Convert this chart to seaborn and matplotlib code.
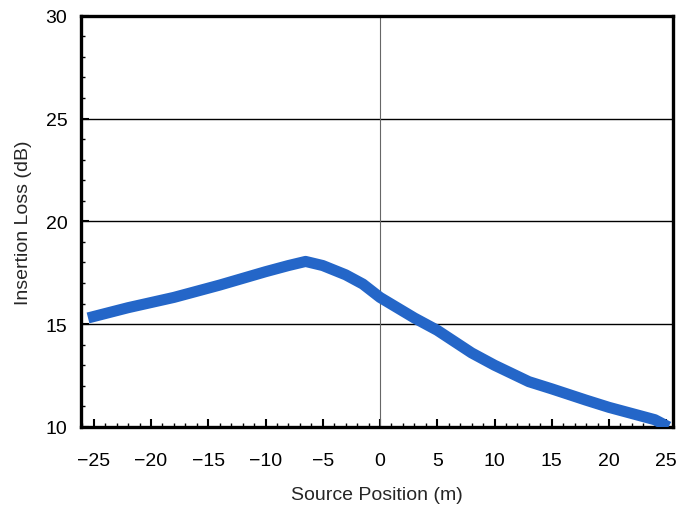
import matplotlib
matplotlib.use("Agg")
import matplotlib.pyplot as plt
import seaborn as sns
import pandas as pd
from matplotlib.ticker import MultipleLocator

positions = [-25.5, -22, -18, -14, -10, -8, -6.5, -5, -3, -1.5, 0, 1.5, 3, 5, 8, 10, 13, 15, 18, 20, 22, 24, 25.2]
loss = [15.3, 15.8, 16.3, 16.9, 17.55, 17.85, 18.05, 17.85, 17.4, 16.95, 16.3, 15.8, 15.3, 14.7, 13.6, 13.0, 12.2, 11.85, 11.3, 10.95, 10.65, 10.35, 10.0]
x_ticks = [-25, -20, -15, -10, -5, 0, 5, 10, 15, 20, 25]
y_ticks = [10, 15, 20, 25, 30]

df = pd.DataFrame({"pos": positions, "loss": loss})

sns.set_theme(style="white")
plt.rcParams['font.family'] = ['Liberation Sans', 'DejaVu Sans']

fig = plt.figure(figsize=(6.82, 5.10), dpi=100)
ax = fig.add_axes([0.119, 0.161, 0.868, 0.806])

sns.lineplot(data=df, x="pos", y="loss", ax=ax, color="#2466c8", linewidth=8,
             solid_capstyle="butt", solid_joinstyle="round", zorder=3)

ax.set_xlim(-26.1, 25.6)
ax.set_ylim(10, 30)
ax.set_xticks(x_ticks)
ax.set_yticks(y_ticks)
ax.set_xticklabels([f"\u2212{abs(t)}" if t < 0 else str(t) for t in x_ticks])
ax.xaxis.set_minor_locator(MultipleLocator(1))
ax.yaxis.set_minor_locator(MultipleLocator(1))

for yv in [15, 20, 25]:
    ax.axhline(yv, color="black", linewidth=1.0, zorder=1)
ax.axvline(0, color="#666666", linewidth=0.8, zorder=1)

for s in ax.spines.values():
    s.set_color("black")
    s.set_linewidth(2.4)

ax.tick_params(axis="both", which="major", direction="in", length=6, width=1.5,
               labelsize=14, colors="black")
ax.tick_params(axis="x", which="major", pad=18)
ax.tick_params(axis="y", which="major", pad=10)
ax.tick_params(axis="both", which="minor", direction="in", length=3, width=1.0, colors="black")
ax.tick_params(axis="both", which="both", bottom=True, left=True, top=False, right=False)

ax.set_xlabel("Source Position (m)", fontsize=14, labelpad=12)
ax.set_ylabel("Insertion Loss (dB)", fontsize=14, labelpad=10)

fig.savefig("out.png", dpi=100)
